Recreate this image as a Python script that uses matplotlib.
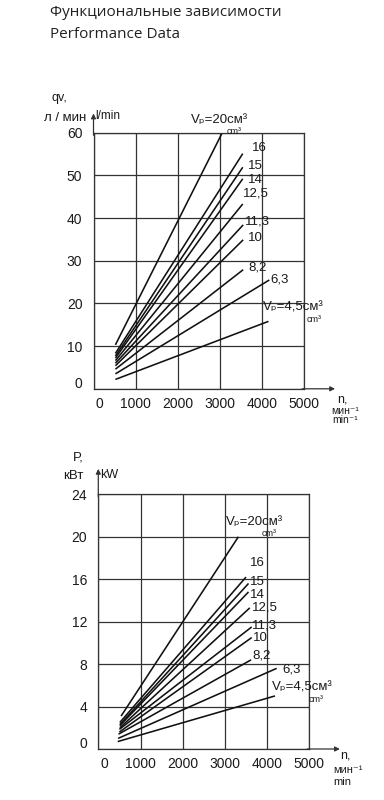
import matplotlib
matplotlib.use("Agg")
import matplotlib.pyplot as plt
from matplotlib.transforms import ScaledTranslation
import warnings
warnings.filterwarnings("ignore")

W, H = 384, 800
FONT = ['Liberation Sans', 'DejaVu Sans']
plt.rcParams['font.family'] = FONT

# ---- data ----
displacements = ["20", "16", "15", "14", "12,5", "11,3", "10", "8,2", "6,3", "4,5"]

# Flow qv [l/min] vs speed n [min^-1]
q_n_start = [520, 520, 520, 520, 520, 520, 520, 520, 520, 520]
q_start = [10.3, 8.3, 7.7, 7.2, 6.6, 6.0, 5.4, 4.6, 3.5, 2.2]
q_n_end = [3055, 3540, 3540, 3540, 3540, 3550, 3550, 3550, 4170, 4150]
q_end = [60.0, 55.1, 51.9, 49.2, 43.3, 38.4, 34.9, 27.9, 25.5, 15.8]

# Power P [kW] vs speed n
p_n_start = [540, 510, 510, 510, 510, 500, 500, 480, 470, 460]
p_start = [3.1, 2.5, 2.3, 2.2, 2.0, 1.85, 1.6, 1.4, 1.0, 0.7]
p_n_end = [3320, 3500, 3560, 3560, 3590, 3635, 3635, 3620, 4227, 4187]
p_end = [20.0, 16.2, 15.6, 14.8, 13.3, 11.5, 10.5, 8.4, 7.6, 5.0]

x_ticks = [0, 1000, 2000, 3000, 4000, 5000]
q_ticks = [0, 10, 20, 30, 40, 50, 60]
p_ticks = [0, 4, 8, 12, 16, 20, 24]

fig = plt.figure(figsize=(W / 100, H / 100), dpi=100)
fig.patch.set_facecolor('white')
INK = '#1a1a1a'


def px(x, y):
    return x / W, 1 - y / H


def make_axes(left, right, top, bottom, ymax, yticks):
    ax = fig.add_axes([left / W, 1 - bottom / H, (right - left) / W, (bottom - top) / H])
    ax.set_xlim(0, 5000)
    ax.set_ylim(0, ymax)
    ax.set_xticks(x_ticks)
    ax.set_xticklabels([str(t) for t in x_ticks])
    ax.set_yticks(yticks)
    ax.set_yticklabels([str(t) for t in yticks])
    ax.tick_params(length=0, labelsize=10, pad=6, colors=INK)
    ax.tick_params(axis='y', pad=8)
    ax.grid(True, color='#333333', lw=0.9)
    for s in ax.spines.values():
        s.set_color('#333333')
        s.set_linewidth(0.9)
    ax.set_axisbelow(True)
    # the "0" labels sit a little off the origin in the reference
    xl = ax.xaxis.get_major_ticks()[0].label1
    xl.set_transform(xl.get_transform() + ScaledTranslation(6 / 100, 0, fig.dpi_scale_trans))
    yl = ax.yaxis.get_major_ticks()[0].label1
    yl.set_transform(yl.get_transform() + ScaledTranslation(0, 6 / 100, fig.dpi_scale_trans))
    return ax


def arrows(ax, yfrac, xfrac):
    ax.annotate('', xy=(0, yfrac), xytext=(0, 0.99), xycoords='axes fraction',
                arrowprops=dict(arrowstyle='-|>', lw=0.9, color='#333333', mutation_scale=7,
                                shrinkA=0, shrinkB=0), annotation_clip=False)
    ax.annotate('', xy=(xfrac, 0), xytext=(0.99, 0), xycoords='axes fraction',
                arrowprops=dict(arrowstyle='-|>', lw=0.9, color='#333333', mutation_scale=7,
                                shrinkA=0, shrinkB=0), annotation_clip=False)


def label(x, y, s, size=9.5, **kw):
    fig.text(*px(x, y), s, fontsize=size, ha='left', va='center', color=INK, **kw)


# ---- titles ----
fig.text(*px(50, 13), "Функциональные зависимости", fontsize=11, family='Open Sans',
         va='center', ha='left', color='#222222')
fig.text(*px(50, 34), "Performance Data", fontsize=11, family='Open Sans',
         va='center', ha='left', color='#222222')

# ---- top chart ----
ax1 = make_axes(93.5, 304.3, 132.7, 388.8, 60, q_ticks)
arrows(ax1, 1.075, 1.146)
for i in range(len(displacements)):
    ax1.plot([q_n_start[i], q_n_end[i]], [q_start[i], q_end[i]], color='#111111', lw=1.15,
             solid_capstyle='butt')

label(51, 98, "qv,", 9)
label(44, 118, "л / мин", 9.5)
label(95, 116, "l/min", 8.5)
label(337, 400, "n,", 9)
label(331, 411, "мин⁻¹", 7.5)
label(332, 420, "min⁻¹", 7.5)

top_labels = [
    ("Vₚ=20см³", 191, 120), ("16", 252, 148), ("15", 248, 166), ("14", 248, 180),
    ("12,5", 243, 194), ("11,3", 245, 221), ("10", 248, 238), ("8,2", 248, 268),
    ("6,3", 270, 279), ("Vₚ=4,5см³", 263, 308),
]
for t, x, y in top_labels:
    label(x, y, t, 9.5)
label(227, 131, "cm³", 6.5)
label(307, 320, "cm³", 6.5)

# ---- bottom chart ----
ax2 = make_axes(98.3, 309.3, 494.3, 749.0, 24, p_ticks)
arrows(ax2, 1.10, 1.145)
for i in range(len(displacements)):
    ax2.plot([p_n_start[i], p_n_end[i]], [p_start[i], p_end[i]], color='#111111', lw=1.15,
             solid_capstyle='butt')

label(73, 457, "P,", 9.5)
label(63, 476, "кВт", 9.5)
label(100, 475, "kW", 9)
label(340, 756, "n,", 9)
label(333, 770, "мин⁻¹", 8)
label(333, 782, "min", 8)

bot_labels = [
    ("Vₚ=20см³", 226, 522), ("16", 250, 563), ("15", 250, 582), ("14", 250, 595),
    ("12,5", 252, 608), ("11,3", 252, 625), ("10", 253, 638), ("8,2", 252, 655),
    ("6,3", 282, 669), ("Vₚ=4,5см³", 272, 688),
]
for t, x, y in bot_labels:
    label(x, y, t, 9.5)
label(262, 534, "cm³", 6.5)
label(309, 699, "cm³", 6.5)

fig.savefig("out.png", dpi=100, facecolor='white')
